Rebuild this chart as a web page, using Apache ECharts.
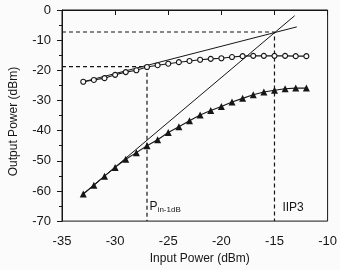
<!DOCTYPE html>
<html>
<head>
<meta charset="utf-8">
<script src="https://cdn.jsdelivr.net/npm/echarts@6/dist/echarts.min.js"></script>
<style>
    html, body { margin: 0; padding: 0; background: #fbfbfb; }
    #main { width: 340px; height: 270px; }
</style>
</head>
<body>
<div id="main"></div>
<script>
// input power sweep (dBm)
var inputPower = [-33, -32, -31, -30, -29, -28, -27, -26, -25, -24, -23,
    -22, -21, -20, -19, -18, -17, -16, -15, -14, -13, -12]
// circles
var outCircle = [-23.8, -23.2, -22.6, -21.5, -20.6, -20.0, -18.9, -18.3, -17.8, -17.3, -16.9,
    -16.5, -16.2, -16.0, -15.6, -15.3, -15.2, -15.2, -15.2, -15.2, -15.3, -15.3]
// triangles
var outTriangle = [-61.0, -58.1, -55.1, -52.2, -49.5, -47.3, -45.0, -43.0, -40.6, -38.7, -36.7,
    -34.8, -33.3, -32.0, -30.5, -29.3, -28.1, -27.2, -26.6, -26.1, -25.9, -25.9]
// extrapolated lines
var fitLow = [[-33, -23.8], [-12.9, -5.6]]
var fitHigh = [[-33, -61.0], [-13.1, -1.9]]
// marked points
var p1dB = [-27, -18.8]
var iip3 = [-15, -7.3]
var xTicks = [-35, -30, -25, -20, -15, -10]
var yTicks = [0, -10, -20, -30, -40, -50, -60, -70]

var pairs = (xs, ys) => {
    var r = []
    for (var i = 0; i < xs.length; i++) {
        r.push([xs[i], ys[i]])
    }
    return r
}

var guide = (p) => {
    return [[xTicks[0], p[1]], [p[0], p[1]], [p[0], yTicks[yTicks.length - 1]]]
}

var ink = '#161616'
var font = 'Liberation Sans, Arial, sans-serif'

var dashed = (data) => {
    return {
        type: 'line',
        data: data,
        symbol: 'none',
        lineStyle: { color: ink, width: 1.2, type: [4, 3] },
        z: 1,
    }
}

var __main = () => {
    var chart = echarts.init(document.getElementById('main'))
    var option = {
        backgroundColor: '#fbfbfb',
        animation: false,
        grid: {
            left: 55, right: 12, top: 10, bottom: 44,
            show: true, borderColor: ink, borderWidth: 1,
        },
        xAxis: {
            type: 'value',
            min: -35, max: -10, interval: 5,
            name: 'Input Power (dBm)',
            nameLocation: 'middle',
            nameGap: 30,
            nameTextStyle: { fontFamily: font, fontSize: 12, color: ink, padding: [0, 0, 0, 10] },
            axisLine: { lineStyle: { color: ink, width: 1 } },
            axisTick: { length: 5, lineStyle: { color: ink } },
            axisLabel: { fontFamily: font, fontSize: 13, color: ink, margin: 14 },
            splitLine: { show: false },
        },
        yAxis: {
            type: 'value',
            min: -70, max: 0, interval: 10,
            name: 'Output Power (dBm)',
            nameLocation: 'middle',
            nameGap: 42,
            nameTextStyle: { fontFamily: font, fontSize: 12, color: ink, padding: [0, 12, 0, 0] },
            axisLine: { lineStyle: { color: ink, width: 1 } },
            axisTick: { length: 5, lineStyle: { color: ink } },
            minorTick: { show: true, splitNumber: 2, length: 3, lineStyle: { color: ink } },
            axisLabel: { fontFamily: font, fontSize: 13, color: ink, margin: 11 },
            splitLine: { show: false },
        },
        series: [
            dashed(guide(iip3)),
            dashed(guide(p1dB)),
            {
                type: 'line',
                data: fitLow,
                symbol: 'none',
                lineStyle: { color: ink, width: 1 },
                z: 2,
            },
            {
                type: 'line',
                data: fitHigh,
                symbol: 'none',
                lineStyle: { color: ink, width: 1 },
                z: 2,
            },
            {
                type: 'line',
                data: pairs(inputPower, outCircle),
                symbol: 'circle',
                symbolSize: 5,
                itemStyle: { color: '#fbfbfb', borderColor: ink, borderWidth: 1.1 },
                lineStyle: { color: ink, width: 1.1 },
                z: 3,
            },
            {
                type: 'line',
                data: pairs(inputPower, outTriangle),
                symbol: 'triangle',
                symbolSize: 7,
                itemStyle: { color: ink },
                lineStyle: { color: ink, width: 1.1 },
                z: 3,
                markPoint: {
                    symbol: 'circle',
                    symbolSize: 1,
                    itemStyle: { color: 'rgba(0,0,0,0)' },
                    silent: true,
                    label: {
                        show: true,
                        position: 'right',
                        distance: 0,
                        fontFamily: font,
                        fontSize: 12,
                        color: ink,
                    },
                    data: [
                        {
                            coord: [-26.8, -65.2],
                            label: {
                                formatter: '{a|P}{b|in-1dB}',
                                rich: {
                                    a: { fontFamily: font, fontSize: 12, color: ink },
                                    b: { fontFamily: font, fontSize: 8, color: ink, padding: [7, 0, 0, 0] },
                                },
                            },
                        },
                        {
                            coord: [-14.3, -65.6],
                            label: { formatter: 'IIP3' },
                        },
                    ],
                },
            },
        ],
    }
    chart.setOption(option)
}
__main()
</script>
</body>
</html>
